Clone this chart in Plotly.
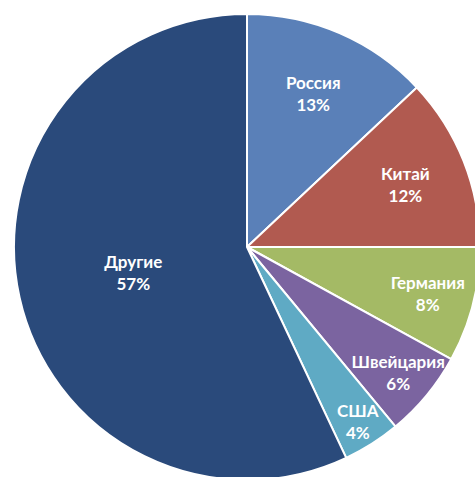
import plotly.graph_objects as go

labels = ["Россия", "Китай", "Германия", "Швейцария", "США", "Другие"]
values = [13, 12, 8, 6, 4, 57]
colors = ["#5A80B8", "#B15A50", "#A4BA65", "#7B64A0", "#5FAAC4", "#2A4A7B"]

fig = go.Figure(go.Pie(
    labels=labels,
    values=values,
    sort=False,
    direction="clockwise",
    rotation=0,
    marker=dict(colors=colors, line=dict(color="white", width=2)),
    texttemplate="<b>%{label}</b><br><b>%{percent:.0%}</b>",
    textposition="inside",
    insidetextorientation="horizontal",
    textfont=dict(family="Lato", size=17, color="white"),
    showlegend=False,
    hoverinfo="skip",
))
fig.update_layout(
    width=480, height=480,
    margin=dict(l=14, r=0, t=14, b=0),
    paper_bgcolor="white",
    uniformtext=dict(minsize=17, mode="show"),
)
fig.write_html(
    "out.html",
    config={"displayModeBar": False},
    post_script="document.body.style.margin='0';document.body.style.overflow='hidden';document.documentElement.style.overflow='hidden';",
)
